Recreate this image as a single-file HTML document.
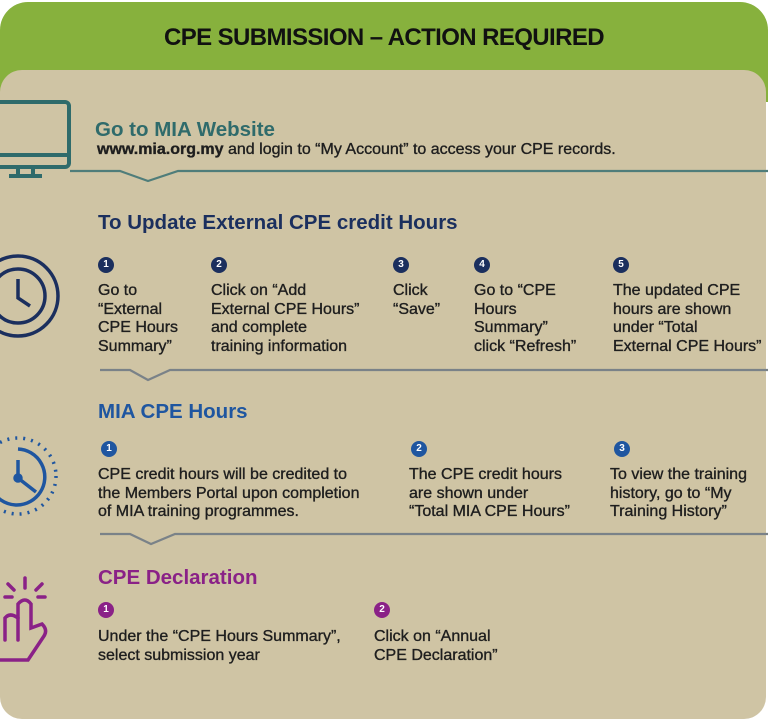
<!DOCTYPE html>
<html><head><meta charset="utf-8"><style>
html,body{margin:0;padding:0;width:768px;height:724px;background:#fff;overflow:hidden;position:relative;font-family:"Liberation Sans",sans-serif}
.green{position:absolute;left:0;top:2px;width:768px;height:100px;background:#87b13d;border-radius:28px 28px 0 0}
.beige{position:absolute;left:0;top:70px;width:766px;height:649px;background:#cfc4a4;border-radius:22px 22px 22px 22px}
.t{position:absolute;white-space:nowrap}
.title{left:0;width:768px;text-align:center;top:24px;font-size:24px;font-weight:bold;color:#111;letter-spacing:-0.6px}
.h{font-size:20.5px;font-weight:bold}
.b{font-size:16px;color:#1e1e1e;line-height:18.5px;font-weight:normal;-webkit-text-stroke:0.35px #1e1e1e}
.n{position:absolute;width:16px;height:16px;border-radius:50%;color:#fff;font-size:10px;font-weight:bold;text-align:center;line-height:16px}
.nb{background:#1b2f5e}.nm{background:#1f56a0}.np{background:#8a2187}
svg{position:absolute;left:0;top:0}
</style></head><body>
<div class="green"></div>
<div class="beige"></div>
<div class="t title">CPE SUBMISSION – ACTION REQUIRED</div>
<svg width="768" height="724">
<g fill="none" stroke-width="2.2">
<polyline points="70,171 120,171 148,181 178,171 768,171" stroke="#4f7d7a"/>
<polyline points="100,370 130,370 148,380 170,370 768,370" stroke="#7a8288"/>
<polyline points="100,534 130,534 151,544 175,534 768,534" stroke="#7a8288"/>
</g>
<g stroke="#2f6b6b" stroke-width="4" fill="none">
<rect x="-4" y="102" width="73" height="65" rx="4"/>
<line x1="-4" y1="155" x2="69" y2="155"/>
<line x1="18" y1="167" x2="18" y2="176"/><line x1="33" y1="167" x2="33" y2="176"/>
<line x1="9" y1="176" x2="42" y2="176"/>
</g>
<g stroke="#1b2f5e" stroke-width="3.5" fill="none">
<circle cx="18" cy="296" r="40"/><circle cx="18" cy="296" r="27"/>
<polyline points="18,279 18,298 30,306"/>
</g>
<g stroke="#1f56a0" stroke-width="3.5" fill="none">
<circle cx="18" cy="476" r="38" stroke-dasharray="2 6"/>
<path d="M18,449 A28,28 0 1 1 -8,490"/>
<polyline points="18,460 18,478 36,492"/>
<circle cx="18" cy="478" r="3"/>
</g>
<g stroke="#8a2187" stroke-width="3.5" fill="none" stroke-linecap="round">
<line x1="25" y1="578" x2="25" y2="588"/><line x1="8" y1="584" x2="14" y2="590"/><line x1="42" y1="584" x2="36" y2="590"/>
<line x1="5" y1="597" x2="12" y2="597"/><line x1="38" y1="597" x2="45" y2="597"/>
<path d="M18,640 L18,604 Q25,596 31,604 L31,628 L42,624 Q48,630 44,636 L28,660 L0,660"/>
<path d="M18,618 Q10,612 5,618 L5,640"/>
</g>
</svg>
<div class="t h" style="left:95px;top:118px;color:#2f6b6b">Go to MIA Website</div>
<div class="t b" style="left:97px;top:141px"><b>www.mia.org.my</b> and login to “My Account” to access your CPE records.</div>

<div class="t h" style="left:98px;top:211px;color:#1b2f5e">To Update External CPE credit Hours</div>
<div class="n nb" style="left:98px;top:257px">1</div>
<div class="n nb" style="left:211px;top:257px">2</div>
<div class="n nb" style="left:393px;top:257px">3</div>
<div class="n nb" style="left:474px;top:257px">4</div>
<div class="n nb" style="left:613px;top:257px">5</div>
<div class="t b" style="left:98px;top:282px">Go to<br>“External<br>CPE Hours<br>Summary”</div>
<div class="t b" style="left:211px;top:282px">Click on “Add<br>External CPE Hours”<br>and complete<br>training information</div>
<div class="t b" style="left:393px;top:282px">Click<br>“Save”</div>
<div class="t b" style="left:474px;top:282px">Go to “CPE<br>Hours<br>Summary”<br>click “Refresh”</div>
<div class="t b" style="left:613px;top:282px">The updated CPE<br>hours are shown<br>under “Total<br>External CPE Hours”</div>

<div class="t h" style="left:98px;top:400px;color:#1f56a0">MIA CPE Hours</div>
<div class="n nm" style="left:101px;top:441px">1</div>
<div class="n nm" style="left:411px;top:441px">2</div>
<div class="n nm" style="left:614px;top:441px">3</div>
<div class="t b" style="left:98px;top:466px">CPE credit hours will be credited to<br>the Members Portal upon completion<br>of MIA training programmes.</div>
<div class="t b" style="left:409px;top:466px">The CPE credit hours<br>are shown under<br>“Total MIA CPE Hours”</div>
<div class="t b" style="left:610px;top:466px">To view the training<br>history, go to “My<br>Training History”</div>

<div class="t h" style="left:98px;top:566px;color:#8a2187">CPE Declaration</div>
<div class="n np" style="left:98px;top:602px">1</div>
<div class="n np" style="left:374px;top:602px">2</div>
<div class="t b" style="left:98px;top:628px">Under the “CPE Hours Summary”,<br>select submission year</div>
<div class="t b" style="left:374px;top:628px">Click on “Annual<br>CPE Declaration”</div>
</body></html>
